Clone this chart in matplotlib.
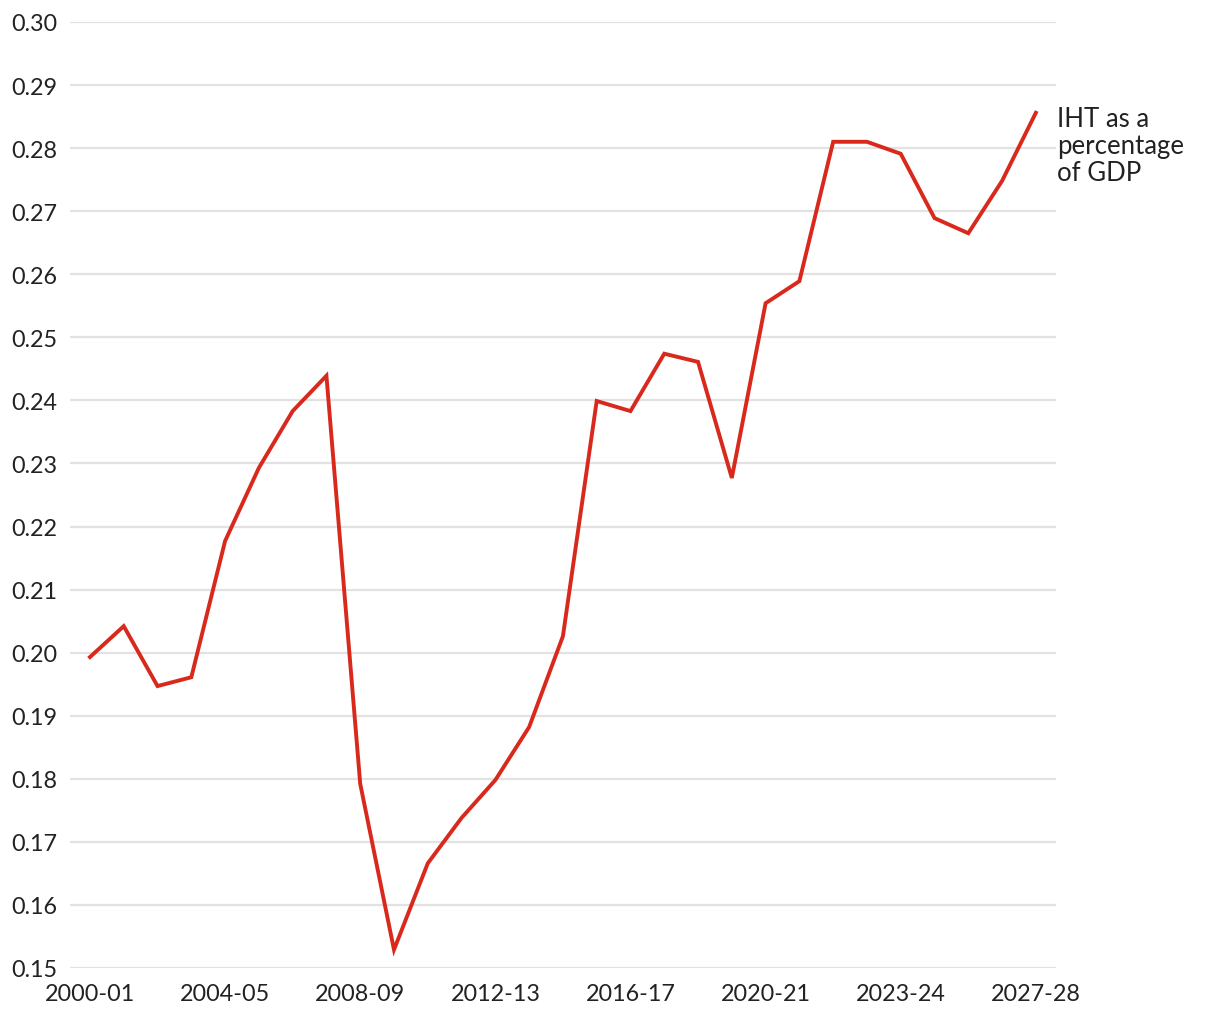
import matplotlib.pyplot as plt

# IHT receipts as a share of GDP, 2000-01 onwards
iht_pct_gdp = [0.1993, 0.2042, 0.1947, 0.1961, 0.2177, 0.2293, 0.2383, 0.2439,
               0.1792, 0.1529, 0.1666, 0.1738, 0.1798, 0.1882, 0.2026, 0.2399,
               0.2383, 0.2474, 0.2461, 0.2277, 0.2554, 0.2589, 0.2810, 0.2810,
               0.2791, 0.2689, 0.2665, 0.2748, 0.2856]
tick_idx = [0, 4, 8, 12, 16, 20, 24, 28]
tick_labels = ['2000-01', '2004-05', '2008-09', '2012-13', '2016-17',
               '2020-21', '2023-24', '2027-28']
y_ticks = [0.15, 0.16, 0.17, 0.18, 0.19, 0.20, 0.21, 0.22, 0.23, 0.24,
           0.25, 0.26, 0.27, 0.28, 0.29, 0.30]

plt.rcParams['font.family'] = ['Lato', 'DejaVu Sans']
text_col = '#222222'

fig = plt.figure(figsize=(12.2, 10.2), dpi=100)
ax = fig.add_axes([0.0574, 0.05, 0.808, 0.9275])

x = list(range(len(iht_pct_gdp)))
ax.plot(x, iht_pct_gdp, color='#d8291c', lw=2.8, solid_joinstyle='miter', zorder=3)

ax.set_xlim(-0.59, len(iht_pct_gdp) - 1 + 0.59)
ax.set_ylim(0.15, 0.30)
ax.set_yticks(y_ticks)
ax.set_yticklabels([f'{v:.2f}' for v in y_ticks])
ax.set_xticks(tick_idx)
ax.set_xticklabels(tick_labels)

ax.grid(axis='y', color='#e2e2e2', lw=1.6)
ax.grid(axis='x', visible=False)
ax.set_axisbelow(True)
for s in ax.spines.values():
    s.set_visible(False)
ax.tick_params(axis='both', length=0, labelsize=16.8, labelcolor=text_col)
ax.tick_params(axis='y', pad=9)
ax.tick_params(axis='x', pad=11)

ax.annotate('IHT as a\npercentage\nof GDP', xy=(1, iht_pct_gdp[-1]),
            xycoords=('axes fraction', 'data'), xytext=(1, 5),
            textcoords='offset points', ha='left', va='top',
            fontsize=18.5, color=text_col, linespacing=1.1,
            annotation_clip=False)

fig.savefig('out.png', dpi=100)
